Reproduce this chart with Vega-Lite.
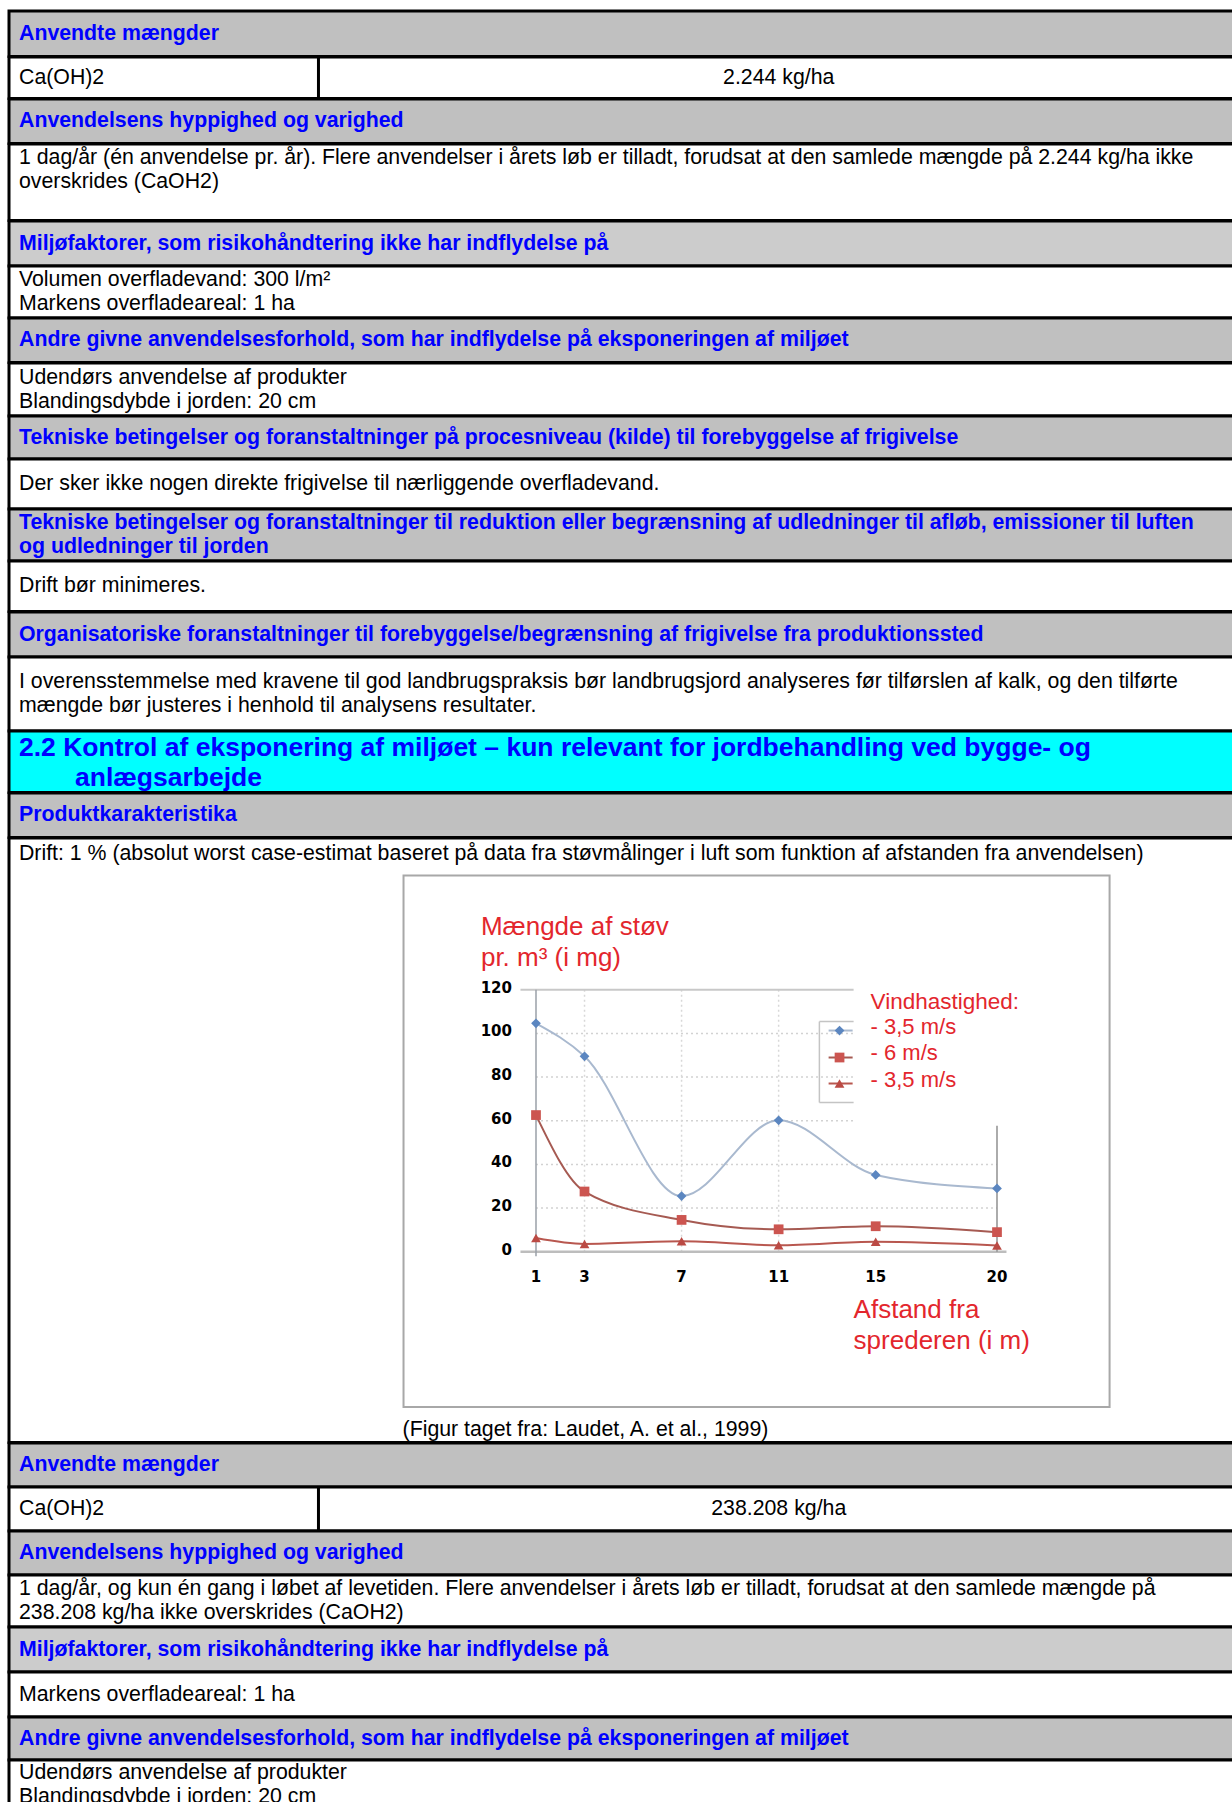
{
  "$schema": "https://vega.github.io/schema/vega-lite/v6.json",
  "padding": {"left": 7, "top": 9, "right": 0, "bottom": 0},
  "background": "white",
  "bounds": "flush",
  "spacing": 0,
  "config": {
    "view": {"stroke": "black", "strokeWidth": 3, "fill": "white"},
    "axis": {"disable": true},
    "text": {"font": "Liberation Sans", "fontSize": 21.3, "baseline": "middle", "lineBreak": "\n", "lineHeight": 24, "color": "black"},
    "concat": {"spacing": 0}
  },
  "datasets": {
    "tabel": [
      {"celle": "H1", "tekst": "Anvendte mængder"},
      {"celle": "R1a", "tekst": "Ca(OH)2"},
      {"celle": "R1b", "tekst": "2.244 kg/ha"},
      {"celle": "H2", "tekst": "Anvendelsens hyppighed og varighed"},
      {"celle": "R2", "tekst": "1 dag/år (én anvendelse pr. år). Flere anvendelser i årets løb er tilladt, forudsat at den samlede mængde på 2.244 kg/ha ikke\noverskrides (CaOH2)\n"},
      {"celle": "H3", "tekst": "Miljøfaktorer, som risikohåndtering ikke har indflydelse på"},
      {"celle": "R3", "tekst": "Volumen overfladevand: 300 l/m²\nMarkens overfladeareal: 1 ha"},
      {"celle": "H4", "tekst": "Andre givne anvendelsesforhold, som har indflydelse på eksponeringen af miljøet"},
      {"celle": "R4", "tekst": "Udendørs anvendelse af produkter\nBlandingsdybde i jorden: 20 cm"},
      {"celle": "H5", "tekst": "Tekniske betingelser og foranstaltninger på procesniveau (kilde) til forebyggelse af frigivelse"},
      {"celle": "R5", "tekst": "Der sker ikke nogen direkte frigivelse til nærliggende overfladevand."},
      {"celle": "H6", "tekst": "Tekniske betingelser og foranstaltninger til reduktion eller begrænsning af udledninger til afløb, emissioner til luften\nog udledninger til jorden"},
      {"celle": "R6", "tekst": "Drift bør minimeres."},
      {"celle": "H7", "tekst": "Organisatoriske foranstaltninger til forebyggelse/begrænsning af frigivelse fra produktionssted"},
      {"celle": "R7", "tekst": "I overensstemmelse med kravene til god landbrugspraksis bør landbrugsjord analyseres før tilførslen af kalk, og den tilførte\nmængde bør justeres i henhold til analysens resultater."},
      {"celle": "H8a", "tekst": "2.2 Kontrol af eksponering af miljøet – kun relevant for jordbehandling ved bygge- og"},
      {"celle": "H8b", "tekst": "anlægsarbejde"},
      {"celle": "H9", "tekst": "Produktkarakteristika"},
      {"celle": "R9", "tekst": "Drift: 1 % (absolut worst case-estimat baseret på data fra støvmålinger i luft som funktion af afstanden fra anvendelsen)"},
      {"celle": "F-y", "tekst": "Mængde af støv\npr. m³ (i mg)"},
      {"celle": "F-x", "tekst": "Afstand fra\nsprederen (i m)"},
      {"celle": "F-leg", "tekst": "Vindhastighed:"},
      {"celle": "F-leg-etiketter", "tekst": "- 3,5 m/s\n- 6 m/s\n- 3,5 m/s"},
      {"celle": "F-kilde", "tekst": "(Figur taget fra: Laudet, A. et al., 1999)"},
      {"celle": "H10", "tekst": "Anvendte mængder"},
      {"celle": "R10a", "tekst": "Ca(OH)2"},
      {"celle": "R10b", "tekst": "238.208 kg/ha"},
      {"celle": "H11", "tekst": "Anvendelsens hyppighed og varighed"},
      {"celle": "R11", "tekst": "1 dag/år, og kun én gang i løbet af levetiden. Flere anvendelser i årets løb er tilladt, forudsat at den samlede mængde på\n238.208 kg/ha ikke overskrides (CaOH2)"},
      {"celle": "H12", "tekst": "Miljøfaktorer, som risikohåndtering ikke har indflydelse på"},
      {"celle": "R12", "tekst": "Markens overfladeareal: 1 ha"},
      {"celle": "H13", "tekst": "Andre givne anvendelsesforhold, som har indflydelse på eksponeringen af miljøet"},
      {"celle": "R13", "tekst": "Udendørs anvendelse af produkter\nBlandingsdybde i jorden: 20 cm"}
    ],
    "stov": [
      {"serie": "3,5 m/s (A)", "afstand": 1, "stov": 104.6},
      {"serie": "3,5 m/s (A)", "afstand": 3, "stov": 89.5},
      {"serie": "3,5 m/s (A)", "afstand": 7, "stov": 25.5},
      {"serie": "3,5 m/s (A)", "afstand": 11, "stov": 60.2},
      {"serie": "3,5 m/s (A)", "afstand": 15, "stov": 35.2},
      {"serie": "3,5 m/s (A)", "afstand": 20, "stov": 29.0},
      {"serie": "6 m/s", "afstand": 1, "stov": 62.6},
      {"serie": "6 m/s", "afstand": 3, "stov": 27.6},
      {"serie": "6 m/s", "afstand": 7, "stov": 14.6},
      {"serie": "6 m/s", "afstand": 11, "stov": 10.3},
      {"serie": "6 m/s", "afstand": 15, "stov": 11.7},
      {"serie": "6 m/s", "afstand": 20, "stov": 9.0},
      {"serie": "3,5 m/s (B)", "afstand": 1, "stov": 6.3},
      {"serie": "3,5 m/s (B)", "afstand": 3, "stov": 3.6},
      {"serie": "3,5 m/s (B)", "afstand": 7, "stov": 4.8},
      {"serie": "3,5 m/s (B)", "afstand": 11, "stov": 3.0},
      {"serie": "3,5 m/s (B)", "afstand": 15, "stov": 4.6},
      {"serie": "3,5 m/s (B)", "afstand": 20, "stov": 2.9}
    ]
  },
  "vconcat": [
    {"width": 1230, "height": 45.5, "view": {"fill": "#c0c0c0"}, "data": {"name": "tabel"}, "transform": [{"filter": "datum.celle == 'H1'"}],
     "mark": {"type": "text", "align": "left", "dx": 10, "fontWeight": "bold", "color": "#0000ff"},
     "encoding": {"x": {"datum": 0, "type": "quantitative", "scale": {"domain": [0, 1]}}, "text": {"field": "tekst"}}},
    {"width": 1230, "height": 41.5, "data": {"name": "tabel"},
     "layer": [
       {"transform": [{"filter": "datum.celle == 'R1a'"}],
        "mark": {"type": "text", "align": "left", "dx": 10},
        "encoding": {"x": {"datum": 0, "type": "quantitative", "scale": {"domain": [0, 1]}}, "text": {"field": "tekst"}}},
       {"transform": [{"filter": "datum.celle == 'R1b'"}],
        "mark": {"type": "text", "align": "center"},
        "encoding": {"x": {"datum": 0.6258, "type": "quantitative"}, "text": {"field": "tekst"}}},
       {"transform": [{"filter": "datum.celle == 'R1a'"}],
        "mark": {"type": "rule", "color": "black", "strokeWidth": 3},
        "encoding": {"x": {"datum": 0.2516, "type": "quantitative"}}}
     ]},
    {"width": 1230, "height": 44.5, "view": {"fill": "#c0c0c0"}, "data": {"name": "tabel"}, "transform": [{"filter": "datum.celle == 'H2'"}],
     "mark": {"type": "text", "align": "left", "dx": 10, "fontWeight": "bold", "color": "#0000ff"},
     "encoding": {"x": {"datum": 0, "type": "quantitative", "scale": {"domain": [0, 1]}}, "text": {"field": "tekst"}}},
    {"width": 1230, "height": 76.5, "data": {"name": "tabel"}, "transform": [{"filter": "datum.celle == 'R2'"}],
     "mark": {"type": "text", "align": "left", "dx": 10, "dy": -24},
     "encoding": {"x": {"datum": 0, "type": "quantitative", "scale": {"domain": [0, 1]}}, "text": {"field": "tekst"}}},
    {"width": 1230, "height": 45, "view": {"fill": "#cccccc"}, "data": {"name": "tabel"}, "transform": [{"filter": "datum.celle == 'H3'"}],
     "mark": {"type": "text", "align": "left", "dx": 10, "fontWeight": "bold", "color": "#0000ff"},
     "encoding": {"x": {"datum": 0, "type": "quantitative", "scale": {"domain": [0, 1]}}, "text": {"field": "tekst"}}},
    {"width": 1230, "height": 52, "data": {"name": "tabel"}, "transform": [{"filter": "datum.celle == 'R3'"}],
     "mark": {"type": "text", "align": "left", "dx": 10, "dy": -12},
     "encoding": {"x": {"datum": 0, "type": "quantitative", "scale": {"domain": [0, 1]}}, "text": {"field": "tekst"}}},
    {"width": 1230, "height": 44.5, "view": {"fill": "#c0c0c0"}, "data": {"name": "tabel"}, "transform": [{"filter": "datum.celle == 'H4'"}],
     "mark": {"type": "text", "align": "left", "dx": 10, "fontWeight": "bold", "color": "#0000ff"},
     "encoding": {"x": {"datum": 0, "type": "quantitative", "scale": {"domain": [0, 1]}}, "text": {"field": "tekst"}}},
    {"width": 1230, "height": 53, "data": {"name": "tabel"}, "transform": [{"filter": "datum.celle == 'R4'"}],
     "mark": {"type": "text", "align": "left", "dx": 10, "dy": -12},
     "encoding": {"x": {"datum": 0, "type": "quantitative", "scale": {"domain": [0, 1]}}, "text": {"field": "tekst"}}},
    {"width": 1230, "height": 43, "view": {"fill": "#c0c0c0"}, "data": {"name": "tabel"}, "transform": [{"filter": "datum.celle == 'H5'"}],
     "mark": {"type": "text", "align": "left", "dx": 10, "fontWeight": "bold", "color": "#0000ff"},
     "encoding": {"x": {"datum": 0, "type": "quantitative", "scale": {"domain": [0, 1]}}, "text": {"field": "tekst"}}},
    {"width": 1230, "height": 50, "data": {"name": "tabel"}, "transform": [{"filter": "datum.celle == 'R5'"}],
     "mark": {"type": "text", "align": "left", "dx": 10},
     "encoding": {"x": {"datum": 0, "type": "quantitative", "scale": {"domain": [0, 1]}}, "text": {"field": "tekst"}}},
    {"width": 1230, "height": 52, "view": {"fill": "#c0c0c0"}, "data": {"name": "tabel"}, "transform": [{"filter": "datum.celle == 'H6'"}],
     "mark": {"type": "text", "align": "left", "dx": 10, "dy": -12, "fontWeight": "bold", "color": "#0000ff"},
     "encoding": {"x": {"datum": 0, "type": "quantitative", "scale": {"domain": [0, 1]}}, "text": {"field": "tekst"}}},
    {"width": 1230, "height": 50.5, "data": {"name": "tabel"}, "transform": [{"filter": "datum.celle == 'R6'"}],
     "mark": {"type": "text", "align": "left", "dx": 10},
     "encoding": {"x": {"datum": 0, "type": "quantitative", "scale": {"domain": [0, 1]}}, "text": {"field": "tekst"}}},
    {"width": 1230, "height": 45, "view": {"fill": "#c0c0c0"}, "data": {"name": "tabel"}, "transform": [{"filter": "datum.celle == 'H7'"}],
     "mark": {"type": "text", "align": "left", "dx": 10, "fontWeight": "bold", "color": "#0000ff"},
     "encoding": {"x": {"datum": 0, "type": "quantitative", "scale": {"domain": [0, 1]}}, "text": {"field": "tekst"}}},
    {"width": 1230, "height": 74, "data": {"name": "tabel"}, "transform": [{"filter": "datum.celle == 'R7'"}],
     "mark": {"type": "text", "align": "left", "dx": 10, "dy": -12},
     "encoding": {"x": {"datum": 0, "type": "quantitative", "scale": {"domain": [0, 1]}}, "text": {"field": "tekst"}}},
    {"width": 1230, "height": 61.5, "view": {"fill": "#00ffff"}, "data": {"name": "tabel"},
     "layer": [
       {"transform": [{"filter": "datum.celle == 'H8a'"}],
        "mark": {"type": "text", "align": "left", "dx": 10, "dy": -13.5, "fontSize": 26.5, "fontWeight": "bold", "color": "#0000ff"},
        "encoding": {"x": {"datum": 0, "type": "quantitative", "scale": {"domain": [0, 1]}}, "text": {"field": "tekst"}}},
       {"transform": [{"filter": "datum.celle == 'H8b'"}],
        "mark": {"type": "text", "align": "left", "dx": 66, "dy": 16.5, "fontSize": 26.5, "fontWeight": "bold", "color": "#0000ff"},
        "encoding": {"x": {"datum": 0, "type": "quantitative", "scale": {"domain": [0, 1]}}, "text": {"field": "tekst"}}}
     ]},
    {"width": 1230, "height": 44.5, "view": {"fill": "#c0c0c0"}, "data": {"name": "tabel"}, "transform": [{"filter": "datum.celle == 'H9'"}],
     "mark": {"type": "text", "align": "left", "dx": 10, "fontWeight": "bold", "color": "#0000ff"},
     "encoding": {"x": {"datum": 0, "type": "quantitative", "scale": {"domain": [0, 1]}}, "text": {"field": "tekst"}}},
    {"width": 1230, "height": 604.5,
     "layer": [
       {"data": {"values": [{"del": "ramme"}]},
        "mark": {"type": "rect", "filled": false, "color": "#a8a8a8", "strokeWidth": 2},
        "encoding": {"x": {"datum": -4.46, "type": "quantitative", "scale": {"domain": [-20.72, 29.974], "nice": false, "zero": false}}, "x2": {"datum": 24.64},
                     "y": {"datum": 172.3, "type": "quantitative", "scale": {"domain": [-87.31, 189.45], "nice": false, "zero": false}}, "y2": {"datum": -71.06}}},
       {"data": {"values": [{"v": 20}, {"v": 40}]},
        "mark": {"type": "rule", "color": "#d2d2d2", "strokeWidth": 1.5, "strokeDash": [2, 3]},
        "encoding": {"y": {"field": "v", "type": "quantitative"}, "x": {"datum": 1, "type": "quantitative"}, "x2": {"datum": 20}}},
       {"data": {"values": [{"v": 60}, {"v": 80}, {"v": 100}]},
        "mark": {"type": "rule", "color": "#d2d2d2", "strokeWidth": 1.5, "strokeDash": [2, 3]},
        "encoding": {"y": {"field": "v", "type": "quantitative"}, "x": {"datum": 1, "type": "quantitative"}, "x2": {"datum": 14.09}}},
       {"data": {"values": [{"v": 3}, {"v": 7}, {"v": 11}]},
        "mark": {"type": "rule", "color": "#d8d8d8", "strokeWidth": 1.5, "strokeDash": [2, 3]},
        "encoding": {"x": {"field": "v", "type": "quantitative"}, "y": {"datum": 0, "type": "quantitative"}, "y2": {"datum": 120}}},
       {"data": {"values": [{"linje": "top"}]},
        "mark": {"type": "rule", "color": "#c8c8c8", "strokeWidth": 2},
        "encoding": {"y": {"datum": 120, "type": "quantitative"}, "x": {"datum": 0.36, "type": "quantitative"}, "x2": {"datum": 14.09}}},
       {"data": {"values": [{"linje": "bund"}]},
        "mark": {"type": "rule", "color": "#bdbdbd", "strokeWidth": 2.5},
        "encoding": {"y": {"datum": 0, "type": "quantitative"}, "x": {"datum": 0.36, "type": "quantitative"}, "x2": {"datum": 20.39}}},
       {"data": {"values": [{"linje": "y-akse"}]},
        "mark": {"type": "rule", "color": "#9aa0a8", "strokeWidth": 1.5},
        "encoding": {"x": {"datum": 1, "type": "quantitative"}, "y": {"datum": -2, "type": "quantitative"}, "y2": {"datum": 120}}},
       {"data": {"values": [{"linje": "hoejre"}]},
        "mark": {"type": "rule", "color": "#909090", "strokeWidth": 1.5},
        "encoding": {"x": {"datum": 20, "type": "quantitative"}, "y": {"datum": 0, "type": "quantitative"}, "y2": {"datum": 57.7}}},
       {"data": {"values": [{"linje": "boks-top"}]},
        "mark": {"type": "rule", "color": "#c4c4c4", "strokeWidth": 1.5},
        "encoding": {"y": {"datum": 105.4, "type": "quantitative"}, "x": {"datum": 12.68, "type": "quantitative"}, "x2": {"datum": 14.09}}},
       {"data": {"values": [{"linje": "boks-bund"}]},
        "mark": {"type": "rule", "color": "#c4c4c4", "strokeWidth": 1.5},
        "encoding": {"y": {"datum": 68.35, "type": "quantitative"}, "x": {"datum": 12.68, "type": "quantitative"}, "x2": {"datum": 14.09}}},
       {"data": {"values": [{"linje": "boks-venstre"}]},
        "mark": {"type": "rule", "color": "#c4c4c4", "strokeWidth": 1.5},
        "encoding": {"x": {"datum": 12.68, "type": "quantitative"}, "y": {"datum": 68.35, "type": "quantitative"}, "y2": {"datum": 105.4}}},
       {"data": {"name": "stov"},
        "mark": {"type": "line", "interpolate": "monotone", "strokeWidth": 2},
        "encoding": {"x": {"field": "afstand", "type": "quantitative"}, "y": {"field": "stov", "type": "quantitative"},
                     "stroke": {"field": "serie", "type": "nominal", "scale": {"domain": ["3,5 m/s (A)", "6 m/s", "3,5 m/s (B)"], "range": ["#a9b9cf", "#a65a52", "#b8574f"]}, "legend": null}}},
       {"data": {"name": "stov"},
        "mark": {"type": "point", "filled": true, "size": 95, "opacity": 1, "strokeWidth": 0},
        "encoding": {"x": {"field": "afstand", "type": "quantitative"}, "y": {"field": "stov", "type": "quantitative"},
                     "shape": {"field": "serie", "type": "nominal", "scale": {"domain": ["3,5 m/s (A)", "6 m/s", "3,5 m/s (B)"], "range": ["diamond", "square", "triangle-up"]}, "legend": null},
                     "fill": {"field": "serie", "type": "nominal", "scale": {"domain": ["3,5 m/s (A)", "6 m/s", "3,5 m/s (B)"], "range": ["#5b86c0", "#cc5550", "#bb4a44"]}, "legend": null}}},
       {"data": {"values": [{"serie": "3,5 m/s (A)"}]},
        "mark": {"type": "rule", "color": "#a9b9cf", "strokeWidth": 2},
        "encoding": {"y": {"datum": 101.3, "type": "quantitative"}, "x": {"datum": 13.06, "type": "quantitative"}, "x2": {"datum": 14.05}}},
       {"data": {"values": [{"serie": "6 m/s"}]},
        "mark": {"type": "rule", "color": "#a65a52", "strokeWidth": 2},
        "encoding": {"y": {"datum": 88.95, "type": "quantitative"}, "x": {"datum": 13.06, "type": "quantitative"}, "x2": {"datum": 14.05}}},
       {"data": {"values": [{"serie": "3,5 m/s (B)"}]},
        "mark": {"type": "rule", "color": "#b8574f", "strokeWidth": 2},
        "encoding": {"y": {"datum": 77.05, "type": "quantitative"}, "x": {"datum": 13.06, "type": "quantitative"}, "x2": {"datum": 14.05}}},
       {"data": {"values": [{"serie": "3,5 m/s (A)"}]},
        "mark": {"type": "point", "shape": "diamond", "filled": true, "size": 95, "opacity": 1, "color": "#5b86c0"},
        "encoding": {"y": {"datum": 101.3, "type": "quantitative"}, "x": {"datum": 13.51, "type": "quantitative"}}},
       {"data": {"values": [{"serie": "6 m/s"}]},
        "mark": {"type": "point", "shape": "square", "filled": true, "size": 95, "opacity": 1, "color": "#cc5550"},
        "encoding": {"y": {"datum": 88.95, "type": "quantitative"}, "x": {"datum": 13.51, "type": "quantitative"}}},
       {"data": {"values": [{"serie": "3,5 m/s (B)"}]},
        "mark": {"type": "point", "shape": "triangle-up", "filled": true, "size": 95, "opacity": 1, "color": "#bb4a44"},
        "encoding": {"y": {"datum": 77.05, "type": "quantitative"}, "x": {"datum": 13.51, "type": "quantitative"}}},
       {"data": {"name": "tabel"}, "transform": [{"filter": "datum.celle == 'F-leg-etiketter'"}],
        "mark": {"type": "text", "align": "left", "fontSize": 22, "lineHeight": 26.5, "dy": -4, "color": "#e3262d"},
        "encoding": {"x": {"datum": 14.79, "type": "quantitative"}, "y": {"datum": 101.3, "type": "quantitative"}, "text": {"field": "tekst"}}},
       {"data": {"values": [{"v": 0}, {"v": 20}, {"v": 40}, {"v": 60}, {"v": 80}, {"v": 100}, {"v": 120}]},
        "mark": {"type": "text", "align": "right", "dy": -2, "font": "DejaVu Sans", "fontWeight": "bold", "fontSize": 15, "color": "black"},
        "encoding": {"y": {"field": "v", "type": "quantitative"}, "x": {"datum": 0.01, "type": "quantitative"}, "text": {"field": "v", "type": "quantitative"}}},
       {"data": {"values": [{"v": 1}, {"v": 3}, {"v": 7}, {"v": 11}, {"v": 15}, {"v": 20}]},
        "mark": {"type": "text", "align": "center", "dy": -2, "font": "DejaVu Sans", "fontWeight": "bold", "fontSize": 15, "color": "black"},
        "encoding": {"x": {"field": "v", "type": "quantitative"}, "y": {"datum": -12.5, "type": "quantitative"}, "text": {"field": "v", "type": "quantitative"}}},
       {"data": {"name": "tabel"}, "transform": [{"filter": "datum.celle == 'F-y'"}],
        "mark": {"type": "text", "align": "left", "fontSize": 26, "lineHeight": 31, "dy": -2, "color": "#e3262d"},
        "encoding": {"x": {"datum": -1.27, "type": "quantitative"}, "y": {"datum": 147.56, "type": "quantitative"}, "text": {"field": "tekst"}}},
       {"data": {"name": "tabel"}, "transform": [{"filter": "datum.celle == 'F-x'"}],
        "mark": {"type": "text", "align": "left", "fontSize": 26, "lineHeight": 31, "dy": -2, "color": "#e3262d"},
        "encoding": {"x": {"datum": 14.09, "type": "quantitative"}, "y": {"datum": -27.79, "type": "quantitative"}, "text": {"field": "tekst"}}},
       {"data": {"name": "tabel"}, "transform": [{"filter": "datum.celle == 'F-leg'"}],
        "mark": {"type": "text", "align": "left", "fontSize": 22.5, "dy": -3, "color": "#e3262d"},
        "encoding": {"x": {"datum": 14.79, "type": "quantitative"}, "y": {"datum": 113.22, "type": "quantitative"}, "text": {"field": "tekst"}}},
       {"data": {"name": "tabel"}, "transform": [{"filter": "datum.celle == 'R9'"}],
        "mark": {"type": "text", "align": "left"},
        "encoding": {"x": {"datum": -20.31, "type": "quantitative"}, "y": {"datum": 182.2, "type": "quantitative"}, "text": {"field": "tekst"}}},
       {"data": {"name": "tabel"}, "transform": [{"filter": "datum.celle == 'F-kilde'"}],
        "mark": {"type": "text", "align": "left"},
        "encoding": {"x": {"datum": -4.5, "type": "quantitative"}, "y": {"datum": -81.36, "type": "quantitative"}, "text": {"field": "tekst"}}}
     ]},
    {"width": 1230, "height": 44, "view": {"fill": "#c0c0c0"}, "data": {"name": "tabel"}, "transform": [{"filter": "datum.celle == 'H10'"}],
     "mark": {"type": "text", "align": "left", "dx": 10, "fontWeight": "bold", "color": "#0000ff"},
     "encoding": {"x": {"datum": 0, "type": "quantitative", "scale": {"domain": [0, 1]}}, "text": {"field": "tekst"}}},
    {"width": 1230, "height": 44, "data": {"name": "tabel"},
     "layer": [
       {"transform": [{"filter": "datum.celle == 'R10a'"}],
        "mark": {"type": "text", "align": "left", "dx": 10},
        "encoding": {"x": {"datum": 0, "type": "quantitative", "scale": {"domain": [0, 1]}}, "text": {"field": "tekst"}}},
       {"transform": [{"filter": "datum.celle == 'R10b'"}],
        "mark": {"type": "text", "align": "center"},
        "encoding": {"x": {"datum": 0.6258, "type": "quantitative"}, "text": {"field": "tekst"}}},
       {"transform": [{"filter": "datum.celle == 'R10a'"}],
        "mark": {"type": "rule", "color": "black", "strokeWidth": 3},
        "encoding": {"x": {"datum": 0.2516, "type": "quantitative"}}}
     ]},
    {"width": 1230, "height": 44, "view": {"fill": "#c0c0c0"}, "data": {"name": "tabel"}, "transform": [{"filter": "datum.celle == 'H11'"}],
     "mark": {"type": "text", "align": "left", "dx": 10, "fontWeight": "bold", "color": "#0000ff"},
     "encoding": {"x": {"datum": 0, "type": "quantitative", "scale": {"domain": [0, 1]}}, "text": {"field": "tekst"}}},
    {"width": 1230, "height": 52, "data": {"name": "tabel"}, "transform": [{"filter": "datum.celle == 'R11'"}],
     "mark": {"type": "text", "align": "left", "dx": 10, "dy": -12},
     "encoding": {"x": {"datum": 0, "type": "quantitative", "scale": {"domain": [0, 1]}}, "text": {"field": "tekst"}}},
    {"width": 1230, "height": 45, "view": {"fill": "#cccccc"}, "data": {"name": "tabel"}, "transform": [{"filter": "datum.celle == 'H12'"}],
     "mark": {"type": "text", "align": "left", "dx": 10, "fontWeight": "bold", "color": "#0000ff"},
     "encoding": {"x": {"datum": 0, "type": "quantitative", "scale": {"domain": [0, 1]}}, "text": {"field": "tekst"}}},
    {"width": 1230, "height": 45, "data": {"name": "tabel"}, "transform": [{"filter": "datum.celle == 'R12'"}],
     "mark": {"type": "text", "align": "left", "dx": 10},
     "encoding": {"x": {"datum": 0, "type": "quantitative", "scale": {"domain": [0, 1]}}, "text": {"field": "tekst"}}},
    {"width": 1230, "height": 43, "view": {"fill": "#c0c0c0"}, "data": {"name": "tabel"}, "transform": [{"filter": "datum.celle == 'H13'"}],
     "mark": {"type": "text", "align": "left", "dx": 10, "fontWeight": "bold", "color": "#0000ff"},
     "encoding": {"x": {"datum": 0, "type": "quantitative", "scale": {"domain": [0, 1]}}, "text": {"field": "tekst"}}},
    {"width": 1230, "height": 50, "data": {"name": "tabel"}, "transform": [{"filter": "datum.celle == 'R13'"}],
     "mark": {"type": "text", "align": "left", "dx": 10, "dy": -12},
     "encoding": {"x": {"datum": 0, "type": "quantitative", "scale": {"domain": [0, 1]}}, "text": {"field": "tekst"}}}
  ]
}
